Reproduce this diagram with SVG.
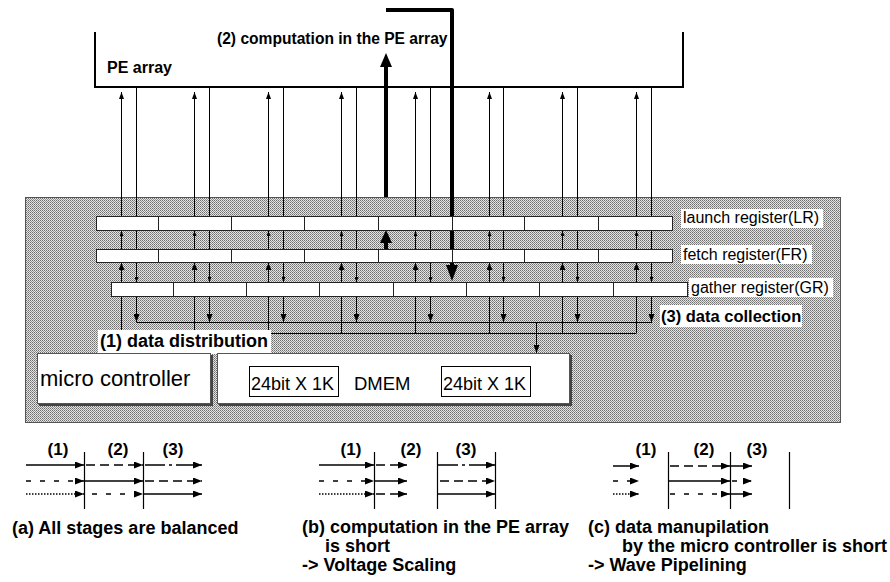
<svg xmlns="http://www.w3.org/2000/svg" width="890" height="582" viewBox="0 0 890 582">
<defs>
<pattern id="dots" width="2" height="2" patternUnits="userSpaceOnUse">
<rect width="2" height="2" fill="#e4e4e4"/>
<rect x="0" y="0" width="1" height="1" fill="#6e6e6e"/>
<rect x="1" y="1" width="1" height="1" fill="#909090"/>
</pattern>
<marker id="aT" viewBox="0 0 7 5" refX="7" refY="2.5" markerWidth="7" markerHeight="5" markerUnits="userSpaceOnUse" orient="auto"><path d="M0,0L7,2.5L0,5z" fill="#000"/></marker>
<marker id="aS" viewBox="0 0 5 4" refX="5" refY="2" markerWidth="5" markerHeight="4" markerUnits="userSpaceOnUse" orient="auto"><path d="M0,0L5,2L0,4z" fill="#000"/></marker>
<marker id="aB" viewBox="0 0 7 6" refX="7" refY="3" markerWidth="7" markerHeight="6" markerUnits="userSpaceOnUse" orient="auto"><path d="M0,0L7,3L0,6z" fill="#000"/></marker>
<marker id="aM" viewBox="0 0 8 6" refX="8" refY="3" markerWidth="8" markerHeight="6" markerUnits="userSpaceOnUse" orient="auto"><path d="M0,0L8,3L0,6z" fill="#000"/></marker>
<marker id="tA" viewBox="0 0 9 7" refX="9" refY="3.5" markerWidth="9" markerHeight="7" markerUnits="userSpaceOnUse" orient="auto"><path d="M0,0L9,3.5L0,7z" fill="#000"/></marker>
</defs>
<style>
text{font-family:"Liberation Sans",Arial,sans-serif;fill:#000}
.b{font-weight:bold}
.ln{stroke:#000;stroke-width:1;fill:none}
.reg{fill:#fff;stroke:#222;stroke-width:1}
.thick{stroke:#000;stroke-width:4;fill:none;stroke-linejoin:round}
.tl{stroke:#000;stroke-width:1.5;fill:none;marker-end:url(#tA)}
.vl{stroke:#000;stroke-width:1.2;fill:none}
.dash{stroke-dasharray:9,5}
.sp{stroke-dasharray:5,9}
.dot{stroke-dasharray:1.5,1.5}
.dd{stroke-dasharray:20,4,3,4}
.bg{fill:#fff}
</style>

<g id="pe-array">
<path d="M95,32 V87 H683 V32" fill="none" stroke="#000" stroke-width="2"/>
<text class="b" x="107" y="73" font-size="16">PE array</text>
</g>

<g id="processor-area">
<rect x="25.5" y="197.5" width="815" height="225" fill="url(#dots)" stroke="#555" stroke-width="1"/>
</g>

<text id="label-computation" class="b" x="217" y="44" font-size="15.6">(2) computation in the PE array</text>

<g id="connectors">
<g marker-end="url(#aT)" class="ln">
<path d="M121.5,216 V92"/><path d="M194.5,216 V92"/><path d="M268.5,216 V92"/><path d="M341.5,216 V92"/>
<path d="M415.5,216 V92"/><path d="M489.5,216 V92"/><path d="M562.5,216 V92"/><path d="M636.5,216 V92"/>
</g>
<g marker-end="url(#aS)" class="ln">
<path d="M121.5,249 V231"/><path d="M194.5,249 V231"/><path d="M268.5,249 V231"/><path d="M341.5,249 V231"/>
<path d="M415.5,249 V231"/><path d="M489.5,249 V231"/><path d="M562.5,249 V231"/><path d="M636.5,249 V231"/>
</g>
<g marker-end="url(#aB)" class="ln">
<path d="M121.5,333 V263"/><path d="M194.5,333 V263"/><path d="M268.5,333 V263"/><path d="M341.5,333 V263"/>
<path d="M415.5,333 V263"/><path d="M489.5,333 V263"/><path d="M562.5,333 V263"/><path d="M636.5,333 V263"/>
</g>
<g marker-end="url(#aS)" class="ln">
<path d="M136.5,87 V282"/><path d="M209.5,87 V282"/><path d="M283.5,87 V282"/><path d="M356.5,87 V282"/>
<path d="M430.5,87 V282"/><path d="M503.5,87 V282"/><path d="M577.5,87 V282"/><path d="M651.5,87 V282"/>
</g>
<g marker-end="url(#aM)" class="ln">
<path d="M136.5,297 V322"/><path d="M209.5,297 V322"/><path d="M283.5,297 V322"/><path d="M356.5,297 V322"/>
<path d="M430.5,297 V322"/><path d="M503.5,297 V322"/><path d="M577.5,297 V322"/><path d="M651.5,297 V322"/>
<path d="M536.5,322 V353"/>
</g>
<path class="ln" d="M136.5,322.5 H652"/>
<path class="ln" d="M121.5,333.5 H636.5"/>
<path class="thick" d="M386,197 V66"/>
<polygon points="386,53 380,67 392,67" fill="#000"/>
<path class="thick" d="M386,249 V242"/>
<polygon points="386,230 380,243 392,243" fill="#000"/>
<path class="thick" d="M386,10 H452 V266"/>
<polygon points="446,265 458,265 452,281" fill="#000"/>
</g>

<g id="launch-register">
<rect class="reg" x="96.5" y="216.5" width="62" height="14"/>
<rect class="reg" x="158.5" y="216.5" width="73" height="14"/>
<rect class="reg" x="231.5" y="216.5" width="73" height="14"/>
<rect class="reg" x="304.5" y="216.5" width="74" height="14"/>
<rect class="reg" x="378.5" y="216.5" width="74" height="14"/>
<rect class="reg" x="452.5" y="216.5" width="72" height="14"/>
<rect class="reg" x="524.5" y="216.5" width="74" height="14"/>
<rect class="reg" x="598.5" y="216.5" width="74" height="14"/>
<rect class="bg" x="681" y="209" width="142" height="19"/>
<text x="683" y="223" font-size="16">launch register(LR)</text>
</g>

<g id="fetch-register">
<rect class="reg" x="96.5" y="249.5" width="62" height="13"/>
<rect class="reg" x="158.5" y="249.5" width="73" height="13"/>
<rect class="reg" x="231.5" y="249.5" width="73" height="13"/>
<rect class="reg" x="304.5" y="249.5" width="74" height="13"/>
<rect class="reg" x="378.5" y="249.5" width="74" height="13"/>
<rect class="reg" x="452.5" y="249.5" width="72" height="13"/>
<rect class="reg" x="524.5" y="249.5" width="74" height="13"/>
<rect class="reg" x="598.5" y="249.5" width="74" height="13"/>
<rect class="bg" x="681" y="245" width="131" height="19"/>
<text x="683" y="260" font-size="16">fetch register(FR)</text>
</g>

<g id="gather-register">
<rect class="reg" x="111.5" y="282.5" width="62" height="14"/>
<rect class="reg" x="173.5" y="282.5" width="73" height="14"/>
<rect class="reg" x="246.5" y="282.5" width="73" height="14"/>
<rect class="reg" x="319.5" y="282.5" width="74" height="14"/>
<rect class="reg" x="393.5" y="282.5" width="73" height="14"/>
<rect class="reg" x="466.5" y="282.5" width="73" height="14"/>
<rect class="reg" x="539.5" y="282.5" width="74" height="14"/>
<rect class="reg" x="613.5" y="282.5" width="74" height="14"/>
<rect class="bg" x="689" y="278" width="144" height="19"/>
<text x="691" y="293" font-size="16">gather register(GR)</text>
</g>

<g id="label-collection">
<rect class="bg" x="660" y="305" width="142" height="22"/>
<text class="b" x="661" y="322" font-size="16.5">(3) data collection</text>
</g>

<g id="label-distribution">
<rect class="bg" x="98" y="330" width="173" height="24"/>
<text class="b" x="100" y="347" font-size="18">(1) data distribution</text>
</g>

<g id="micro-controller">
<rect x="39" y="355" width="174" height="51" fill="#444"/>
<rect x="37.5" y="353.5" width="173" height="50" fill="#fff" stroke="#555"/>
<text x="40" y="386" font-size="22">micro controller</text>
</g>

<g id="dmem">
<rect x="219" y="355" width="353" height="51" fill="#444"/>
<rect x="217.5" y="353.5" width="352" height="50" fill="#fff" stroke="#555"/>
<rect x="249.5" y="366.5" width="89" height="30" fill="#fff" stroke="#000"/>
<text x="251" y="390" font-size="18">24bit X 1K</text>
<text x="354" y="390" font-size="18.5">DMEM</text>
<rect x="441.5" y="366.5" width="89" height="30" fill="#fff" stroke="#000"/>
<text x="443" y="390" font-size="18">24bit X 1K</text>
</g>

<g id="timing-a">
<text class="b" x="58" y="455" font-size="17" text-anchor="middle">(1)</text>
<text class="b" x="118" y="455" font-size="17" text-anchor="middle">(2)</text>
<text class="b" x="173" y="455" font-size="17" text-anchor="middle">(3)</text>
<path class="vl" d="M84.5,452 V509 M143.5,452 V509"/>
<path class="tl" d="M26,465 H84"/>
<path class="tl dash" d="M86,465 H143"/>
<path class="tl dd" d="M145,465 H202"/>
<path class="tl sp" d="M26,481 H84"/>
<path class="tl" d="M84,481 H143"/>
<path class="tl dash" d="M145,481 H202"/>
<path class="tl dot" d="M26,494 H84"/>
<path class="tl sp" d="M92,494 H143"/>
<path class="tl" d="M143,494 H202"/>
<text class="b" x="12" y="534" font-size="18">(a) All stages are balanced</text>
</g>

<g id="timing-b">
<text class="b" x="351" y="455" font-size="17" text-anchor="middle">(1)</text>
<text class="b" x="411" y="455" font-size="17" text-anchor="middle">(2)</text>
<text class="b" x="466" y="455" font-size="17" text-anchor="middle">(3)</text>
<path class="vl" d="M374.5,452 V509 M437.5,452 V509 M495.5,452 V509"/>
<path class="tl" d="M319,465 H374"/>
<path class="tl dash" d="M376,465 H407"/>
<path class="tl dd" d="M438,465 H495"/>
<path class="tl sp" d="M319,481 H374"/>
<path class="tl" d="M374,481 H407"/>
<path class="tl dash" d="M440,481 H495"/>
<path class="tl dot" d="M319,494 H374"/>
<path class="tl dash" d="M376,494 H407"/>
<path class="tl" d="M438,494 H495"/>
<text class="b" x="302" y="533" font-size="18">(b) computation in the PE array</text>
<text class="b" x="325" y="552" font-size="18">is short</text>
<text class="b" x="302" y="571" font-size="18">-&gt; Voltage Scaling</text>
</g>

<g id="timing-c">
<text class="b" x="646" y="455" font-size="17" text-anchor="middle">(1)</text>
<text class="b" x="704" y="455" font-size="17" text-anchor="middle">(2)</text>
<text class="b" x="757" y="455" font-size="17" text-anchor="middle">(3)</text>
<path class="vl" d="M668.5,452 V509 M730.5,452 V509 M789.5,452 V509"/>
<path class="tl" d="M613,466 H639"/>
<path class="tl dash" d="M670,466 H730"/>
<path class="tl" d="M730,466 H752"/>
<path class="tl sp" d="M613,481 H639"/>
<path class="tl" d="M669,481 H730"/>
<path class="tl sp" d="M732,481 H752"/>
<path class="tl dot" d="M613,494 H639"/>
<path class="tl sp" d="M670,494 H730"/>
<path class="tl" d="M730,494 H752"/>
<text class="b" x="588" y="533" font-size="18">(c) data manupilation</text>
<text class="b" x="622" y="552" font-size="18">by the micro controller is short</text>
<text class="b" x="588" y="571" font-size="18">-&gt; Wave Pipelining</text>
</g>
</svg>
